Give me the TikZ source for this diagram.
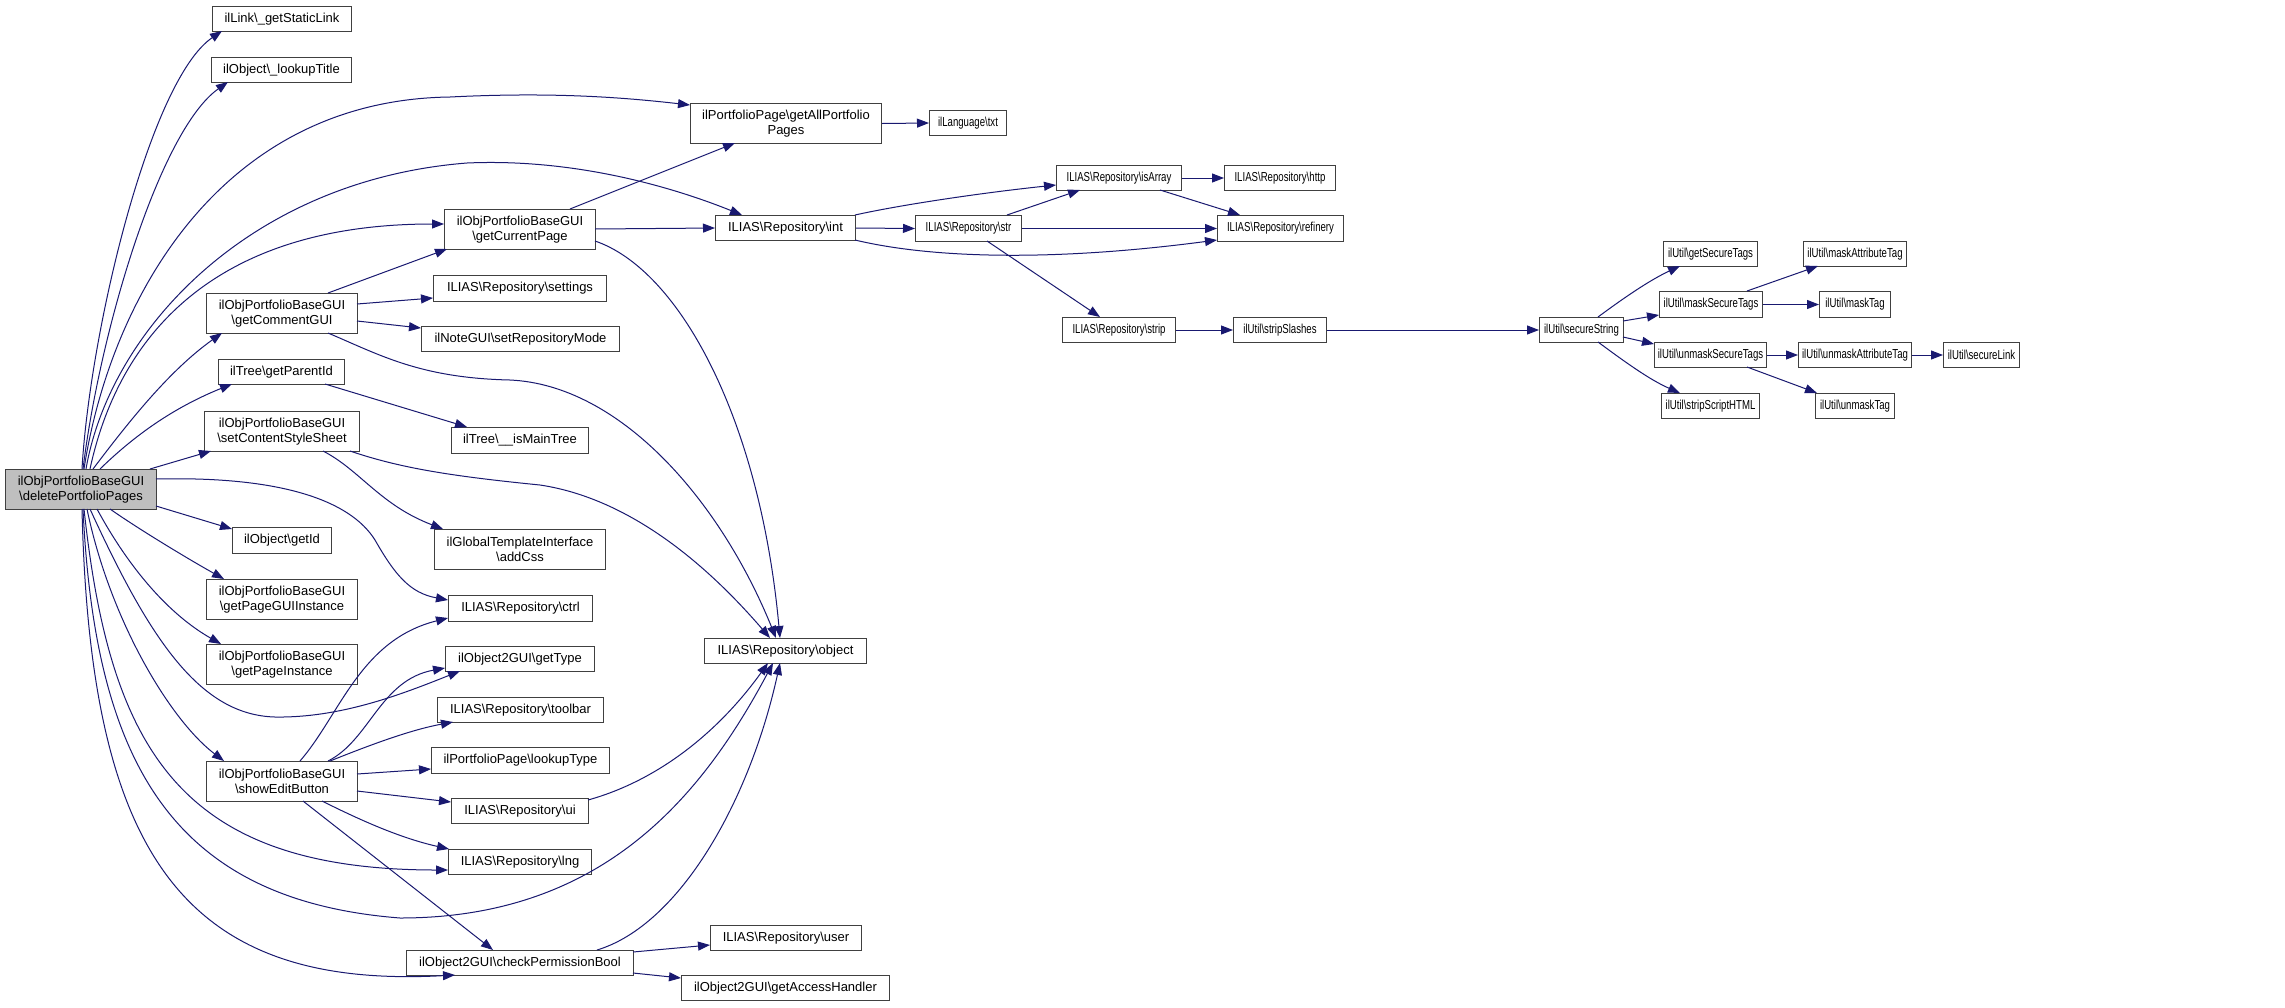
\documentclass[tikz,border=0pt]{standalone}
\usepackage{fontspec}
\setmainfont{Liberation Sans}
\usepackage{graphicx}
\usetikzlibrary{arrows.meta,calc}
\newcommand{\bs}{\textbackslash}
\newcommand{\cz}[1]{\scalebox{0.74}[1]{#1}}
\definecolor{edgecol}{HTML}{191970}
\definecolor{boxcol}{HTML}{404040}
\definecolor{rootfill}{HTML}{BFBFBF}
\begin{document}
\begin{tikzpicture}[x=1pt,y=-1pt,
 box/.style={draw=boxcol, line width=1pt, fill=white, inner sep=0pt, align=center, anchor=north west, font=\fontsize{13}{15.3}\selectfont},
 arr/.style={draw=edgecol, line width=1pt, -{Triangle[length=12pt,width=9pt]}}]
\useasboundingbox[fill=white] (0,0) rectangle (2285,1007);
% nodes
\node[box, minimum width=151, minimum height=40, fill=rootfill] (root) at (5,469) {ilObjPortfolioBaseGUI\\\bs deletePortfolioPages};
\node[box, minimum width=139, minimum height=25] (sl) at (212,6) {ilLink\bs\_getStaticLink};
\node[box, minimum width=140, minimum height=25] (lt) at (211,57) {ilObject\bs\_lookupTitle};
\node[box, minimum width=151, minimum height=40] (cg) at (206,293) {ilObjPortfolioBaseGUI\\\bs getCommentGUI};
\node[box, minimum width=126, minimum height=25] (pi) at (218,359) {ilTree\bs getParentId};
\node[box, minimum width=155, minimum height=40] (cs) at (204,411) {ilObjPortfolioBaseGUI\\\bs setContentStyleSheet};
\node[box, minimum width=99, minimum height=26] (gid) at (232,527) {ilObject\bs getId};
\node[box, minimum width=151, minimum height=40] (pgi) at (206,579) {ilObjPortfolioBaseGUI\\\bs getPageGUIInstance};
\node[box, minimum width=151, minimum height=40] (pin) at (206,644) {ilObjPortfolioBaseGUI\\\bs getPageInstance};
\node[box, minimum width=151, minimum height=40] (seb) at (206,761) {ilObjPortfolioBaseGUI\\\bs showEditButton};
\node[box, minimum width=191, minimum height=40] (ap) at (690,103) {ilPortfolioPage\bs getAllPortfolio\\Pages};
\node[box, minimum width=151, minimum height=40] (cp) at (444,209) {ilObjPortfolioBaseGUI\\\bs getCurrentPage};
\node[box, minimum width=140, minimum height=25] (int) at (715,215) {ILIAS\bs Repository\bs int};
\node[box, minimum width=173, minimum height=26] (set) at (433,275) {ILIAS\bs Repository\bs settings};
\node[box, minimum width=198, minimum height=25] (srm) at (421,326) {ilNoteGUI\bs setRepositoryMode};
\node[box, minimum width=137, minimum height=26] (imt) at (451,427) {ilTree\bs\_\_isMainTree};
\node[box, minimum width=171, minimum height=40] (css) at (434,529) {ilGlobalTemplateInterface\\\bs addCss};
\node[box, minimum width=144, minimum height=26] (ctrl) at (448,595) {ILIAS\bs Repository\bs ctrl};
\node[box, minimum width=149, minimum height=25] (gt) at (445,646) {ilObject2GUI\bs getType};
\node[box, minimum width=162, minimum height=25] (obj) at (704,638) {ILIAS\bs Repository\bs object};
\node[box, minimum width=166, minimum height=25] (tb) at (437,697) {ILIAS\bs Repository\bs toolbar};
\node[box, minimum width=178, minimum height=26] (ltp) at (431,747) {ilPortfolioPage\bs lookupType};
\node[box, minimum width=137, minimum height=25] (ui) at (451,798) {ILIAS\bs Repository\bs ui};
\node[box, minimum width=143, minimum height=25] (lng) at (448,849) {ILIAS\bs Repository\bs lng};
\node[box, minimum width=227, minimum height=25] (cpb) at (406,950) {ilObject2GUI\bs checkPermissionBool};
\node[box, minimum width=151, minimum height=25] (user) at (710,925) {ILIAS\bs Repository\bs user};
\node[box, minimum width=208, minimum height=25] (gah) at (681,975) {ilObject2GUI\bs getAccessHandler};
\node[box, minimum width=77, minimum height=25] (txt) at (929,110) {\cz{ilLanguage\bs txt}};
\node[box, minimum width=125, minimum height=25] (isa) at (1056,165) {\cz{ILIAS\bs Repository\bs isArray}};
\node[box, minimum width=111, minimum height=25] (http) at (1224,165) {\cz{ILIAS\bs Repository\bs http}};
\node[box, minimum width=106, minimum height=26] (str) at (915,215) {\cz{ILIAS\bs Repository\bs str}};
\node[box, minimum width=126, minimum height=26] (ref) at (1217,215) {\cz{ILIAS\bs Repository\bs refinery}};
\node[box, minimum width=113, minimum height=25] (strip) at (1062,317) {\cz{ILIAS\bs Repository\bs strip}};
\node[box, minimum width=93, minimum height=25] (ss) at (1233,317) {\cz{ilUtil\bs stripSlashes}};
\node[box, minimum width=84, minimum height=25] (sec) at (1539,317) {\cz{ilUtil\bs secureString}};
\node[box, minimum width=94, minimum height=25] (gst) at (1663,241) {\cz{ilUtil\bs getSecureTags}};
\node[box, minimum width=103, minimum height=26] (mst) at (1659,291) {\cz{ilUtil\bs maskSecureTags}};
\node[box, minimum width=112, minimum height=25] (ust) at (1654,342) {\cz{ilUtil\bs unmaskSecureTags}};
\node[box, minimum width=98, minimum height=25] (ssh) at (1661,393) {\cz{ilUtil\bs stripScriptHTML}};
\node[box, minimum width=103, minimum height=25] (mat) at (1803,241) {\cz{ilUtil\bs maskAttributeTag}};
\node[box, minimum width=71, minimum height=26] (mt) at (1819,291) {\cz{ilUtil\bs maskTag}};
\node[box, minimum width=113, minimum height=25] (uat) at (1798,342) {\cz{ilUtil\bs unmaskAttributeTag}};
\node[box, minimum width=79, minimum height=25] (ut) at (1815,393) {\cz{ilUtil\bs unmaskTag}};
\node[box, minimum width=76, minimum height=25] (slk) at (1943,342) {\cz{ilUtil\bs secureLink}};
% root edges
\draw[arr] ([shift={(77,0)}]root.north west) .. controls (90,330) and (150,80) .. ([shift={(10,25)}]sl.north west);
\draw[arr] ([shift={(78,0)}]root.north west) .. controls (100,330) and (160,130) .. ([shift={(17,25)}]lt.north west);
\draw[arr] ([shift={(79,0)}]root.north west) .. controls (110,300) and (220,100) .. (450,97) .. controls (550,92) and (620,97) .. ([shift={(0,2)}]ap.north west);
\draw[arr] ([shift={(81,0)}]root.north west) .. controls (110,330) and (250,180) .. (467,163) .. controls (580,158) and (680,190) .. ([shift={(27,0)}]int.north west);
\draw[arr] ([shift={(85,0)}]root.north west) .. controls (120,330) and (220,224) .. ([shift={(0,15)}]cp.north west);
\draw[arr] ([shift={(88,0)}]root.north west) .. controls (130,420) and (170,370) .. ([shift={(16,40)}]cg.north west);
\draw[arr] ([shift={(95,0)}]root.north west) .. controls (140,430) and (180,405) .. ([shift={(14,25)}]pi.north west);
\draw[arr] ([shift={(145,0)}]root.north west) -- ([shift={(7,40)}]cs.north west);
\draw[arr] ([shift={(151,10)}]root.north west) .. controls (280,476) and (350,500) .. (375,540) .. controls (395,575) and (410,593) .. ([shift={(0,5)}]ctrl.north west);
\draw[arr] ([shift={(151,37)}]root.north west) -- ([shift={(0,2)}]gid.north west);
\draw[arr] ([shift={(105,40)}]root.north west) .. controls (140,530) and (190,560) .. ([shift={(18,0)}]pgi.north west);
\draw[arr] ([shift={(92,40)}]root.north west) .. controls (130,570) and (170,615) .. ([shift={(15,0)}]pin.north west);
\draw[arr] ([shift={(82,40)}]root.north west) .. controls (110,620) and (170,720) .. ([shift={(18,0)}]seb.north west);
\draw[arr] ([shift={(85,40)}]root.north west) .. controls (150,640) and (200,715) .. (275,717) .. controls (340,718) and (400,695) .. ([shift={(15,25)}]gt.north west);
\draw[arr] ([shift={(79,40)}]root.north west) .. controls (110,750) and (180,870) .. ([shift={(0,21)}]lng.north west);
\draw[arr] ([shift={(78,40)}]root.north west) .. controls (95,760) and (170,900) .. (400,918) .. controls (600,918) and (700,800) .. ([shift={(69,25)}]obj.north west);
\draw[arr] ([shift={(77,40)}]root.north west) .. controls (90,850) and (180,990) .. ([shift={(49,25)}]cpb.north west);
% second level
\draw[arr] ([shift={(126,0)}]cp.north west) -- ([shift={(45,40)}]ap.north west);
\draw[arr] ([shift={(151,20)}]cp.north west) -- ([shift={(0,13)}]int.north west);
\draw[arr] ([shift={(151,32)}]cp.north west) .. controls (680,270) and (760,420) .. ([shift={(76,0)}]obj.north west);
\draw[arr] ([shift={(122,0)}]cg.north west) -- ([shift={(3,40)}]cp.north west);
\draw[arr] ([shift={(151,11)}]cg.north west) -- ([shift={(0,23)}]set.north west);
\draw[arr] ([shift={(151,28)}]cg.north west) -- ([shift={(0,2)}]srm.north west);
\draw[arr] ([shift={(122,40)}]cg.north west) .. controls (380,355) and (420,378) .. (510,380) .. controls (620,385) and (720,500) .. ([shift={(72,0)}]obj.north west);
\draw[arr] ([shift={(107,25)}]pi.north west) -- ([shift={(16,0)}]imt.north west);
\draw[arr] ([shift={(119,40)}]cs.north west) .. controls (360,470) and (380,505) .. ([shift={(9,0)}]css.north west);
\draw[arr] ([shift={(146,40)}]cs.north west) .. controls (400,468) and (450,476) .. (540,485) .. controls (640,500) and (720,580) .. ([shift={(66,0)}]obj.north west);
\draw[arr] ([shift={(94,0)}]seb.north west) .. controls (340,715) and (360,640) .. ([shift={(0,23)}]ctrl.north west);
\draw[arr] ([shift={(122,0)}]seb.north west) .. controls (370,740) and (380,680) .. ([shift={(0,22)}]gt.north west);
\draw[arr] ([shift={(124,0)}]seb.north west) .. controls (370,745) and (410,730) .. ([shift={(16,25)}]tb.north west);
\draw[arr] ([shift={(151,13)}]seb.north west) -- ([shift={(0,22)}]ltp.north west);
\draw[arr] ([shift={(151,30)}]seb.north west) -- ([shift={(0,4)}]ui.north west);
\draw[arr] ([shift={(116,40)}]seb.north west) .. controls (360,820) and (400,838) .. ([shift={(1,0)}]lng.north west);
\draw[arr] ([shift={(97,40)}]seb.north west) -- ([shift={(87,0)}]cpb.north west);
\draw[arr] ([shift={(137,2)}]ui.north west) .. controls (660,780) and (720,730) .. ([shift={(64,25)}]obj.north west);
\draw[arr] ([shift={(191,0)}]cpb.north west) .. controls (680,925) and (750,800) .. ([shift={(76,25)}]obj.north west);
\draw[arr] ([shift={(227,2)}]cpb.north west) -- ([shift={(0,20)}]user.north west);
\draw[arr] ([shift={(227,23)}]cpb.north west) -- ([shift={(0,3)}]gah.north west);
% right part
\draw[arr] (ap.east) -- (txt.west);
\draw[arr] ([shift={(140,0)}]int.north west) .. controls (900,205) and (980,193) .. ([shift={(0,20)}]isa.north west);
\draw[arr] (int.east) -- (str.west);
\draw[arr] ([shift={(140,25)}]int.north west) .. controls (930,258) and (1050,262) .. ([shift={(0,25)}]ref.north west);
\draw[arr] ([shift={(92,0)}]str.north west) -- ([shift={(24,25)}]isa.north west);
\draw[arr] (str.east) -- (ref.west);
\draw[arr] ([shift={(72,26)}]str.north west) -- ([shift={(38,0)}]strip.north west);
\draw[arr] (isa.east) -- (http.west);
\draw[arr] ([shift={(104,25)}]isa.north west) -- ([shift={(23,0)}]ref.north west);
\draw[arr] (strip.east) -- (ss.west);
\draw[arr] (ss.east) -- (sec.west);
\draw[arr] ([shift={(59,0)}]sec.north west) .. controls (1625,297) and (1650,280) .. ([shift={(17,25)}]gst.north west);
\draw[arr] ([shift={(84,4)}]sec.north west) -- ([shift={(0,24)}]mst.north west);
\draw[arr] ([shift={(84,20)}]sec.north west) -- ([shift={(0,2)}]ust.north west);
\draw[arr] ([shift={(59,25)}]sec.north west) .. controls (1625,362) and (1650,380) .. ([shift={(19,0)}]ssh.north west);
\draw[arr] ([shift={(88,0)}]mst.north west) -- ([shift={(15,25)}]mat.north west);
\draw[arr] (mst.east) -- (mt.west);
\draw[arr] (ust.east) -- (uat.west);
\draw[arr] ([shift={(93,25)}]ust.north west) -- ([shift={(2,0)}]ut.north west);
\draw[arr] (uat.east) -- (slk.west);
\end{tikzpicture}
\end{document}
